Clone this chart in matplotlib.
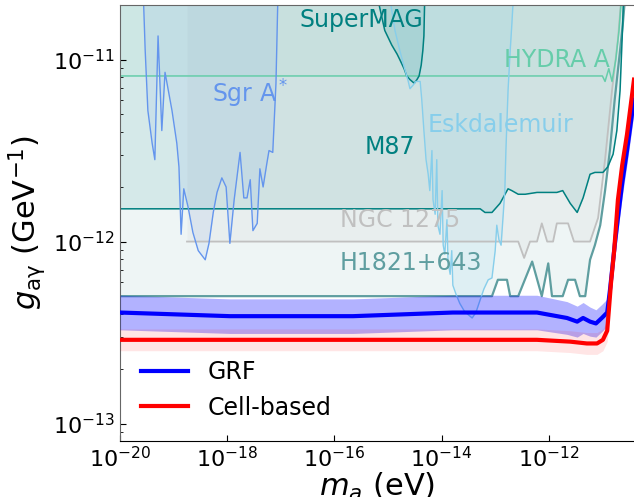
import matplotlib.pyplot as plt
import numpy as np

# all values are log10(m_a / eV) and log10(g / GeV^-1)
sgr_logm = [-19.57, -19.53, -19.48, -19.40, -19.35, -19.29, -19.22, -19.16, -19.03, -18.94,
            -18.90, -18.86, -18.81, -18.73, -18.64, -18.54, -18.41, -18.34, -18.26, -18.19,
            -18.10, -18.02, -17.95, -17.87, -17.76, -17.69, -17.63, -17.57, -17.52, -17.44,
            -17.39, -17.33, -17.26, -17.22, -17.15, -17.09, -17.05]
sgr_logg = [-10.60, -10.95, -11.28, -11.46, -11.55, -10.87, -11.39, -11.07, -11.28, -11.46,
            -11.59, -11.96, -11.71, -11.81, -11.95, -12.05, -12.10, -12.01, -11.84, -11.73,
            -11.65, -11.70, -12.01, -11.77, -11.51, -11.76, -11.76, -11.66, -11.94, -11.90,
            -11.60, -11.70, -11.57, -11.50, -11.51, -11.13, -10.60]

smag_logm = [-15.24, -15.06, -14.93, -14.83, -14.78, -14.70, -14.65, -14.59, -14.55, -14.51,
             -14.46, -14.42, -14.38, -14.35, -14.33, -14.31]
smag_logg = [-10.60, -10.84, -10.92, -10.97, -11.00, -11.05, -11.09, -11.11, -11.12, -11.13,
             -11.11, -11.09, -11.03, -10.95, -10.87, -10.60]

esk_logm = [-15.00, -14.87, -14.78, -14.68, -14.63, -14.59, -14.53, -14.48, -14.40, -14.37,
            -14.33, -14.29, -14.25, -14.22, -14.18, -14.16, -14.12, -14.09, -14.07, -14.03,
            -13.99, -13.97, -13.94, -13.90, -13.88, -13.84, -13.81, -13.79, -13.73, -13.66,
            -13.58, -13.51, -13.43, -13.36, -13.28, -13.21, -13.13, -13.06, -13.00, -12.97,
            -12.93, -12.89, -12.85, -12.82, -12.80, -12.76, -12.72, -12.69, -12.65]
esk_logg = [-10.60, -10.84, -10.95, -11.06, -11.11, -11.16, -11.14, -11.12, -11.12, -11.22,
            -11.39, -11.55, -11.63, -11.72, -11.50, -11.77, -11.85, -11.55, -11.91, -11.96,
            -11.72, -12.02, -12.07, -11.88, -12.11, -12.18, -12.05, -12.24, -12.29, -12.34,
            -12.38, -12.40, -12.42, -12.39, -12.32, -12.26, -12.21, -12.20, -12.05, -11.91,
            -11.99, -12.02, -11.85, -11.72, -11.50, -11.17, -10.95, -10.81, -10.60]

hydra_logm = [-20.0, -11.17, -11.00, -10.95, -10.88, -10.82, -10.75, -10.69, -10.63]
hydra_logg = [-11.09, -11.09, -11.09, -11.12, -11.05, -11.12, -11.00, -10.84, -10.60]

m87_logm = [-20.0, -13.28, -13.19, -13.06, -12.91, -12.76, -12.69, -12.57, -12.44, -12.22,
            -11.85, -11.74, -11.60, -11.47, -11.36, -11.23, -11.14, -10.99, -10.90, -10.80,
            -10.73, -10.67, -10.62, -10.60]
m87_logg = [-11.82, -11.82, -11.84, -11.84, -11.79, -11.71, -11.72, -11.74, -11.74, -11.73,
            -11.73, -11.72, -11.79, -11.84, -11.76, -11.63, -11.62, -11.62, -11.59, -11.52,
            -11.39, -11.17, -10.80, -10.60]

ngc_logm = [-18.75, -12.57, -12.46, -12.35, -12.22, -12.13, -12.03, -11.92, -11.85, -11.64,
            -11.53, -11.23, -11.08, -10.95, -10.82, -10.71, -10.63]
ngc_logg = [-12.00, -12.00, -12.09, -12.00, -12.00, -11.90, -12.00, -12.00, -11.90, -11.90,
            -12.00, -12.00, -11.87, -11.55, -11.17, -10.89, -10.60]

h18_logm = [-20.0, -13.06, -12.95, -12.78, -12.72, -12.57, -12.31, -12.13, -12.01, -11.94,
            -11.74, -11.64, -11.51, -11.42, -11.32, -11.23, -11.14, -11.04, -10.95, -10.86,
            -10.77, -10.67, -10.62, -10.56]
h18_logg = [-12.30, -12.30, -12.21, -12.21, -12.30, -12.30, -12.11, -12.30, -12.12, -12.30,
            -12.30, -12.21, -12.21, -12.30, -12.30, -12.10, -12.02, -11.91, -11.72, -11.50,
            -11.22, -10.95, -10.81, -10.60]

grf_logm = [-20.0, -17.95, -15.65, -13.79, -12.22, -11.66, -11.47, -11.36, -11.23, -11.12,
            -11.01, -10.91, -10.86, -10.82, -10.77, -10.71, -10.63, -10.54, -10.41]
grf_logg = [-12.39, -12.41, -12.41, -12.39, -12.39, -12.42, -12.44, -12.42, -12.44, -12.45,
            -12.42, -12.39, -12.27, -12.16, -12.02, -11.87, -11.68, -11.50, -11.22]
grf_err = [0.095, 0.095, 0.095, 0.095, 0.095, 0.09, 0.085, 0.085, 0.08, 0.075,
           0.075, 0.075, 0.075, 0.075, 0.075, 0.075, 0.075, 0.075, 0.075]

cell_logm = [-20.0, -12.22, -11.60, -11.29, -11.10, -10.99, -10.91, -10.88, -10.84, -10.78,
             -10.71, -10.63, -10.54, -10.41]
cell_logg = [-12.54, -12.54, -12.55, -12.56, -12.56, -12.54, -12.49, -12.38, -12.23, -12.05,
             -11.77, -11.58, -11.41, -11.11]
cell_err = 0.06

TOP = 1e-10

fig = plt.figure(figsize=(6.34, 4.97), dpi=100)
ax = fig.add_axes([120/634, 56/497, 514/634, 436/497])


def bound(logm, logg, color, falpha, lw):
    m = 10**np.array(logm)
    g = 10**np.array(logg)
    ax.fill_between(m, g, TOP, color=color, alpha=falpha, lw=0, zorder=1)
    ax.plot(m, g, color=color, lw=lw, zorder=2)


bound(h18_logm, h18_logg, 'cadetblue', 0.1, 1.6)
bound(ngc_logm, ngc_logg, 'silver', 0.12, 1.3)
bound(m87_logm, m87_logg, 'teal', 0.1, 1.1)
bound(hydra_logm, hydra_logg, 'mediumaquamarine', 0.07, 1.1)
bound(sgr_logm, sgr_logg, 'cornflowerblue', 0.1, 1.0)
bound(smag_logm, smag_logg, 'teal', 0.12, 1.1)
bound(esk_logm, esk_logg, 'skyblue', 0.15, 1.0)

gm = 10**np.array(grf_logm)
gl = np.array(grf_logg)
ge = np.array(grf_err)
ax.fill_between(gm, 10**(gl - ge), 10**(gl + ge), color='blue', alpha=0.3, lw=0, zorder=3)
cm = 10**np.array(cell_logm)
cl = np.array(cell_logg)
ax.fill_between(cm, 10**(cl - cell_err), 10**(cl + cell_err), color='red', alpha=0.1, lw=0, zorder=3)
ax.plot(gm, 10**gl, color='blue', lw=3, label='GRF', zorder=5)
ax.plot(cm, 10**cl, color='red', lw=3, label='Cell-based', zorder=5)

txt = dict(fontsize=17, ha='center', va='center', zorder=6)
ax.text(10**-15.49, 10**-10.78, 'SuperMAG', color='teal', **txt)
ax.text(10**-17.57, 10**-11.19, 'Sgr A$^*$', color='cornflowerblue', **txt)
ax.text(10**-11.85, 10**-11.00, 'HYDRA A', color='mediumaquamarine', **txt)
ax.text(10**-12.91, 10**-11.36, 'Eskdalemuir', color='skyblue', **txt)
ax.text(10**-14.96, 10**-11.48, 'M87', color='teal', **txt)
ax.text(10**-14.78, 10**-11.88, 'NGC 1275', color='silver', **txt)
ax.text(10**-14.57, 10**-12.12, 'H1821+643', color='cadetblue', **txt)

ax.set_xscale('log')
ax.set_yscale('log')
ax.set_xlim(1e-20, 10**-10.41)
ax.set_ylim(10**-13.096, 10**-10.70)
ax.set_xticks([1e-20, 1e-18, 1e-16, 1e-14, 1e-12])
ax.xaxis.set_minor_locator(plt.NullLocator())
ax.tick_params(which='both', direction='in', labelsize=16)
ax.tick_params(which='major', length=4)
ax.tick_params(which='minor', length=2.5)
ax.spines['right'].set_visible(False)
ax.spines['left'].set_color('0.4')
ax.spines['top'].set_color('0.4')
ax.set_xlabel('$m_a$ (eV)', fontsize=22, labelpad=0)
ax.set_ylabel(r'$g_{\mathrm{a\gamma}}$ (GeV$^{-1}$)', fontsize=22)
ax.legend(loc='lower left', fontsize=17, frameon=False)

fig.savefig('out.png', dpi=100)
